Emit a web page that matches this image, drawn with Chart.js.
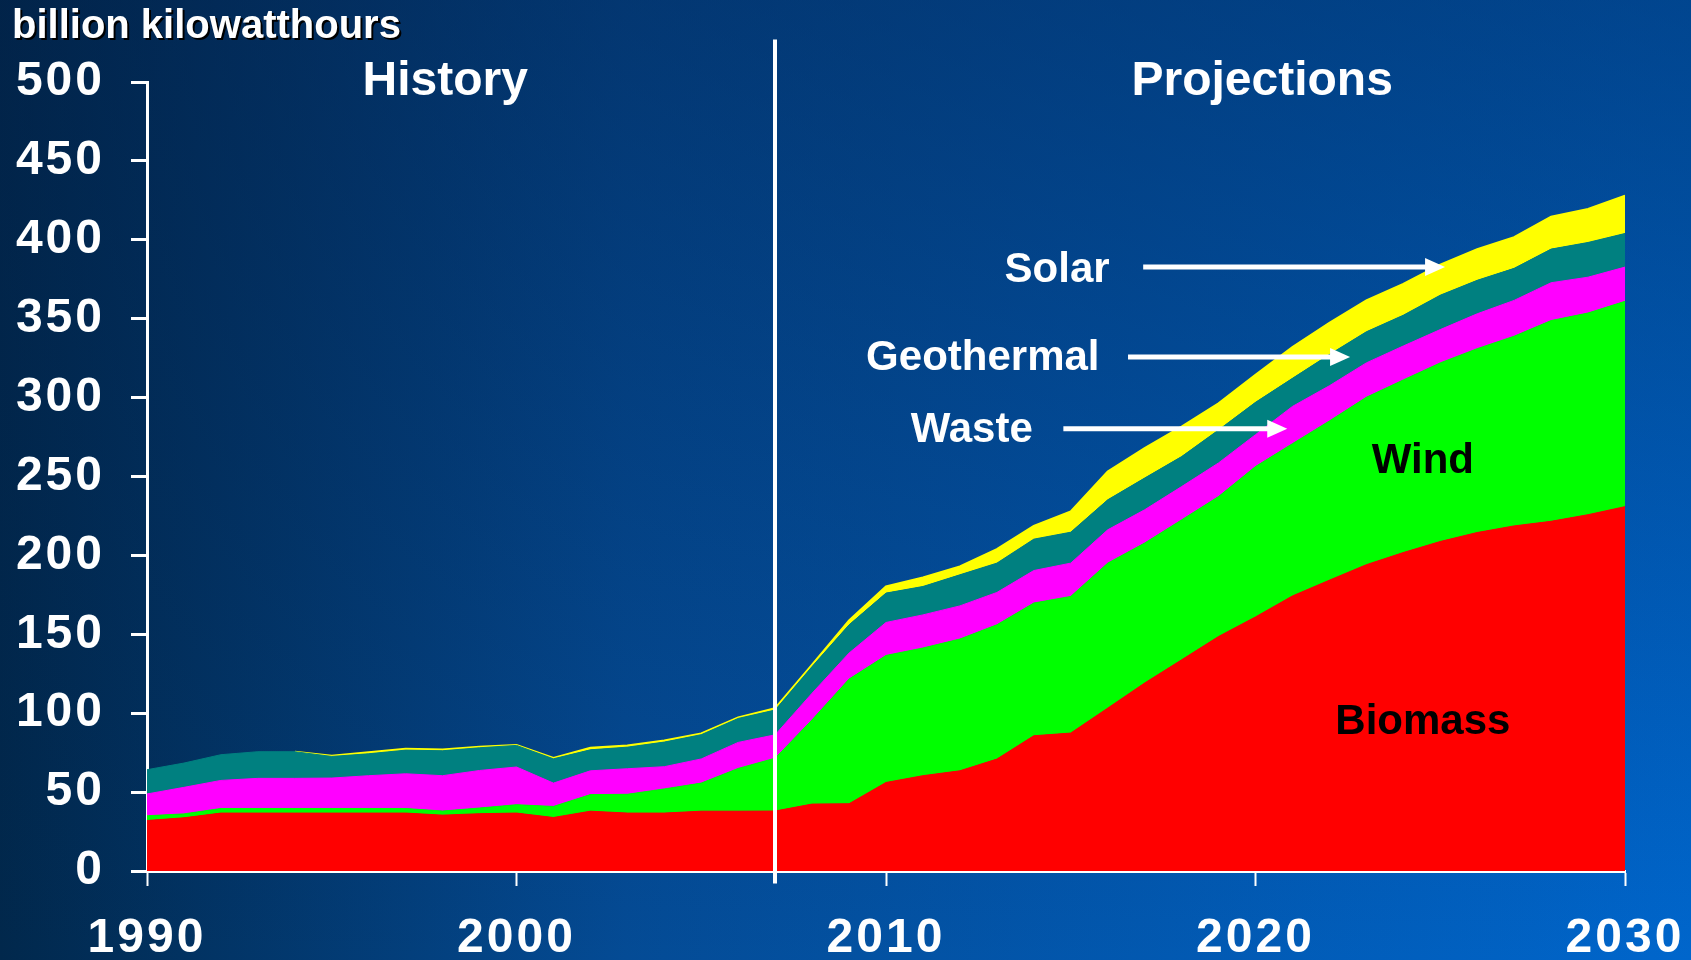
<!DOCTYPE html>
<html>
<head>
<meta charset="utf-8">
<script src="https://cdn.jsdelivr.net/npm/chart.js@4"></script>
<style>
  html, body { margin: 0; padding: 0; }
  body {
    width: 1691px; height: 960px; overflow: hidden;
    background:
      linear-gradient(to bottom, rgba(2,30,70,0.45), rgba(2,30,70,0) 100%),
      linear-gradient(to right, #01284c 0%, #044b95 37%, #0066cc 100%);
  }
  canvas { display: block; }
</style>
</head>
<body>
<canvas id="chart" width="1691" height="960"></canvas>
<script>
// billion kilowatthours, 1990-2030
const years = [1990, 1991, 1992, 1993, 1994, 1995, 1996, 1997, 1998, 1999,
  2000, 2001, 2002, 2003, 2004, 2005, 2006, 2007, 2008, 2009,
  2010, 2011, 2012, 2013, 2014, 2015, 2016, 2017, 2018, 2019,
  2020, 2021, 2022, 2023, 2024, 2025, 2026, 2027, 2028, 2029, 2030]

const biomass = [32, 33.7, 36.7, 36.7, 36.7, 36.7, 36.7, 36.7, 35.4, 36.3,
  36.7, 33.9, 37.9, 36.7, 36.7, 37.9, 37.9, 38, 42.4, 42.6,
  56.1, 60.4, 63.5, 70.9, 85.7, 87.4, 103.2, 119.1, 133.8, 148.6,
  161, 174.3, 184.3, 194.1, 201.8, 208.8, 214.5, 218.7, 221.6, 225.8, 230.9]
const wind = [3, 2.5, 2.9, 2.9, 2.9, 2.9, 2.9, 2.9, 2.6, 3.6,
  5.3, 7, 10.5, 11.9, 15.3, 17.8, 27.1, 33.5, 53.4, 79,
  80.5, 80.9, 83.5, 85.1, 84.1, 86.6, 91.9, 88.7, 88.7, 88.7,
  95.3, 96.5, 100.9, 106.1, 109.4, 113.2, 116.5, 120.2, 127.2, 127.8, 130.1]
const waste = [13.8, 16.8, 17.8, 19.1, 19.1, 19.3, 20.8, 22, 22.4, 23.8,
  23.9, 14.8, 15.1, 16.2, 14.1, 15.3, 16.5, 14.8, 16.9, 16.5,
  20.9, 21, 21, 20.5, 20.6, 21.1, 21.1, 21.1, 21.1, 21.3,
  20.2, 23.6, 22.3, 21.8, 21.5, 21.1, 22.1, 22.7, 24, 22.7, 21.7]
const geothermal = [15.4, 15.4, 16.3, 16.9, 16.9, 13.7, 13.9, 15, 15.8, 14.4,
  13.7, 15.4, 13.3, 13.7, 15.6, 15.4, 15.2, 15.7, 16.9, 17.9,
  18.6, 18, 19.7, 18.6, 19.9, 19.6, 19, 20.1, 19, 20.9,
  20.5, 17.8, 19.8, 19.7, 19.5, 21.8, 21.2, 20.3, 21.3, 22, 21.3]
const solar = [0, 0, 0, 0, 0, 0.4, 0.9, 0.9, 0.8, 0.6,
  0.2, 0.6, 1.3, 1.1, 1, 0.8, 0.6, 1.2, 1.1, 2.8,
  4.2, 5.7, 5.3, 8.9, 8.4, 13.1, 17.9, 19, 19, 16.9,
  17.5, 19.8, 20.1, 19.9, 19.8, 19.3, 19.8, 19.8, 20.6, 21.2, 24]

const xTicks = [1990, 2000, 2010, 2020, 2030]
const historyEnd = 2007

const FONT = '"Liberation Sans", Arial, Helvetica, sans-serif'

// labels placed in data coordinates
const notes = [
  { text: 'History', x: 1998.07, y: 502, color: '#ffffff', size: 48 },
  { text: 'Projections', x: 2020.18, y: 502, color: '#ffffff', size: 48 },
  { text: 'Solar', x: 2014.63, y: 382.8, color: '#ffffff', size: 42 },
  { text: 'Geothermal', x: 2012.62, y: 327, color: '#ffffff', size: 42 },
  { text: 'Waste', x: 2012.32, y: 281.4, color: '#ffffff', size: 42 },
  { text: 'Wind', x: 2024.53, y: 261.2, color: '#000000', size: 42 },
  { text: 'Biomass', x: 2024.53, y: 95.8, color: '#000000', size: 42 }
]
const arrows = [
  { x0: 2016.96, x1: 2025.13, y: 382.8 },
  { x0: 2016.55, x1: 2022.56, y: 325.8 },
  { x0: 2014.8, x1: 2020.86, y: 280.2 }
]

function points(values) {
  return values.map((v, i) => ({ x: years[i], y: v }))
}

function area(label, values, color, fill) {
  return {
    label: label,
    data: points(values),
    backgroundColor: color,
    borderColor: color,
    borderWidth: 1,
    pointRadius: 0,
    tension: 0,
    fill: fill
  }
}

const solarSet = area('Solar', solar, '#ffff00', '-1')
solarSet.borderWidth = 2
solarSet.segment = {
  borderColor: ctx => (solar[ctx.p0DataIndex] === 0 && solar[ctx.p1DataIndex] === 0) ? 'rgba(0,0,0,0)' : '#ffff00'
}

const decorations = {
  id: 'decorations',
  beforeDraw(chart) {
    chart.ctx.letterSpacing = '3px'
  },
  afterDraw(chart) {
    const ctx = chart.ctx
    const xs = chart.scales.x
    const ys = chart.scales.y
    ctx.save()
    ctx.letterSpacing = '0px'

    // history / projections divider
    const dx = Math.round(xs.getPixelForValue(historyEnd))
    ctx.strokeStyle = '#ffffff'
    ctx.lineWidth = 4
    ctx.beginPath()
    ctx.moveTo(dx, ys.getPixelForValue(527))
    ctx.lineTo(dx, ys.getPixelForValue(-8))
    ctx.stroke()

    // unit label
    ctx.font = 'bold 40px ' + FONT
    ctx.textAlign = 'left'
    ctx.textBaseline = 'top'
    ctx.fillStyle = '#000000'
    ctx.fillText('billion kilowatthours', 14, 9)
    ctx.fillStyle = '#ffffff'
    ctx.fillText('billion kilowatthours', 12, 7)

    ctx.textAlign = 'center'
    ctx.textBaseline = 'middle'
    notes.forEach(n => {
      ctx.font = 'bold ' + n.size + 'px ' + FONT
      ctx.fillStyle = n.color
      ctx.fillText(n.text, xs.getPixelForValue(n.x), ys.getPixelForValue(n.y) + 3)
    })

    ctx.fillStyle = '#ffffff'
    ctx.lineWidth = 5
    arrows.forEach(a => {
      const x0 = xs.getPixelForValue(a.x0)
      const x1 = xs.getPixelForValue(a.x1)
      const y = ys.getPixelForValue(a.y)
      ctx.beginPath()
      ctx.moveTo(x0, y)
      ctx.lineTo(x1 - 16, y)
      ctx.stroke()
      ctx.beginPath()
      ctx.moveTo(x1, y)
      ctx.lineTo(x1 - 20, y - 9)
      ctx.lineTo(x1 - 20, y + 9)
      ctx.closePath()
      ctx.fill()
    })
    ctx.restore()
  }
}

new Chart(document.getElementById('chart').getContext('2d'), {
  type: 'line',
  data: {
    datasets: [
      area('Biomass', biomass, '#ff0000', 'origin'),
      area('Wind', wind, '#00ff00', '-1'),
      area('Waste', waste, '#ff00ff', '-1'),
      area('Geothermal', geothermal, '#008080', '-1'),
      solarSet
    ]
  },
  options: {
    responsive: false,
    animation: false,
    devicePixelRatio: 1,
    layout: { padding: { top: 82, right: 66, left: 0, bottom: 0 } },
    plugins: {
      legend: { display: false },
      tooltip: { enabled: false }
    },
    scales: {
      x: {
        type: 'linear',
        min: 1990,
        max: 2030,
        afterBuildTicks: scale => { scale.ticks = xTicks.map(v => ({ value: v })) },
        afterFit: scale => {
          scale.height = 89
          scale.paddingLeft = 0
          scale.paddingRight = 0
        },
        ticks: {
          color: '#ffffff',
          font: { family: FONT, size: 48, weight: 'bold' },
          padding: 24,
          maxRotation: 0,
          callback: v => String(v)
        },
        grid: {
          drawOnChartArea: false,
          tickColor: '#ffffff',
          tickWidth: 2,
          tickLength: 15
        },
        border: { color: '#ffffff', width: 3 }
      },
      y: {
        stacked: true,
        min: 0,
        max: 500,
        afterFit: scale => { scale.width = 147 },
        ticks: {
          stepSize: 50,
          color: '#ffffff',
          font: { family: FONT, size: 48, weight: 'bold' },
          padding: 26
        },
        grid: {
          drawOnChartArea: false,
          tickColor: '#ffffff',
          tickWidth: 3,
          tickLength: 16
        },
        border: { color: '#ffffff', width: 3 }
      }
    }
  },
  plugins: [decorations]
})
</script>
</body>
</html>
